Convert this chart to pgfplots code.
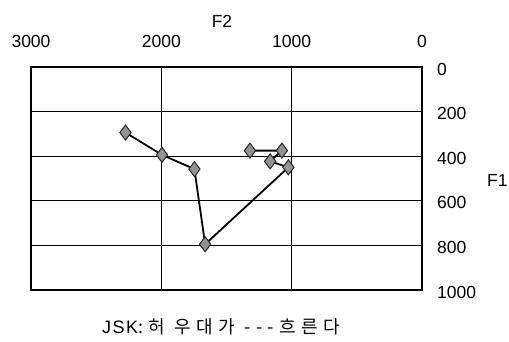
\documentclass[border=0pt]{standalone}
\usepackage{pgfplots}
\pgfplotsset{compat=1.18}
\usepackage{fontspec}
\setmainfont{Liberation Sans}
\newfontfamily\kr{Noto Sans CJK KR}[LetterSpace=30]
\newfontfamily\lat{Liberation Sans}[LetterSpace=8]
\begin{document}
\begin{tikzpicture}
\path (-31pt,-52pt) rectangle (478pt,290pt);
\begin{axis}[
  at={(0pt,0pt)}, anchor=south west,
  scale only axis, width=391pt, height=223pt,
  xmin=0, xmax=3000, ymin=0, ymax=1000,
  x dir=reverse, y dir=reverse,
  xtick={0,1000,2000,3000}, ytick={0,200,400,600,800,1000},
  xticklabel pos=top, yticklabel pos=right,
  grid=major, major grid style={black, line width=1.3pt},
  axis line style={black, line width=1.3pt},
  major tick length=0pt,
  /pgf/number format/assume math mode=true,
  /pgf/number format/1000 sep={},
  tick label style={font=\fontsize{17.5}{20}\selectfont},
  xticklabel style={anchor=base, yshift=19pt, inner sep=0pt},
  yticklabel style={anchor=west, xshift=15pt, inner sep=0pt, yshift=-2pt},
  clip=false,
]
\addplot[black, line width=1.8pt, mark=diamond*, mark size=7.5pt,
  mark options={fill=gray!85, draw=black!85, line width=1pt}]
  coordinates {
  (2275,294) (1995,394) (1746,458) (1664,795) (1025,450) (1165,423) (1075,375) (1320,375)
  };
\end{axis}
\node at (191pt,269pt) {\fontsize{17.5}{20}\selectfont F2};
\node[anchor=west, inner sep=0pt] at (456pt,110pt) {\fontsize{17.5}{20}\selectfont F1};
\node at (190pt,-37pt) {\fontsize{18}{20}\selectfont {\lat JSK}{\kr :허 우대가 ---흐른다}};
\end{tikzpicture}
\end{document}
